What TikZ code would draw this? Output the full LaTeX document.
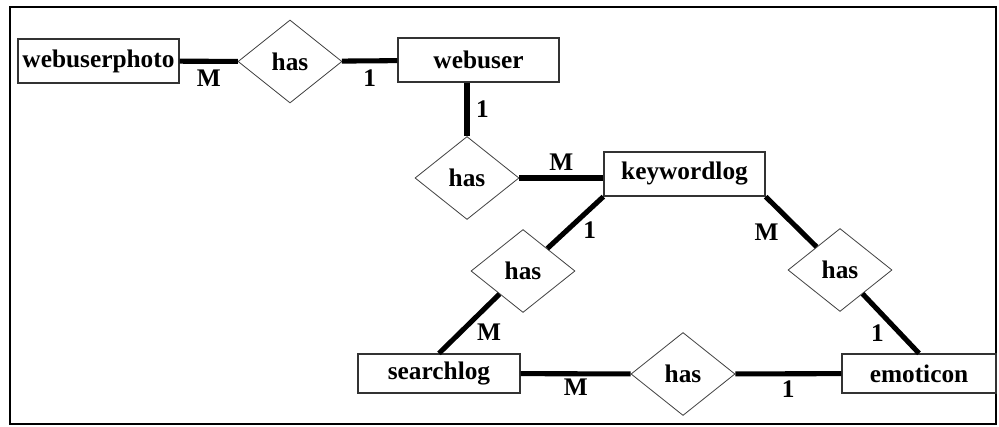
\documentclass[tikz,border=0pt]{standalone}
\usepackage{fontspec}
\setmainfont{Liberation Serif}
\usetikzlibrary{shapes.geometric}
\tikzstyle{ent} = [rectangle, draw=black!80, line width=1pt, fill=white,
    minimum width=120.75pt, minimum height=33pt, inner sep=0pt]
\tikzstyle{rel} = [diamond, draw=black!75, line width=0.6pt, fill=white,
    aspect=1.25, minimum width=78pt, minimum height=62.25pt, inner sep=0pt]
\tikzstyle{card} = [inner sep=0pt]

\begin{document}
\begin{tikzpicture}[x=0.75pt,y=-0.75pt,line width=3.8pt,
                    font=\fontsize{19}{23}\selectfont\bfseries]

  \useasboundingbox (0,0) rectangle (999,427);
  \draw[line width=2pt] (10,7) rectangle (996,424);

  \node[ent]   (photo)  at (98.5,61)   {webuserphoto};
  \node[rel]   (h1)     at (290,61.5)  {has};
  \node[ent]   (user)   at (478.5,60)  {webuser};
  \node[rel]   (h2)     at (467,178)   {has};
  \node[ent]   (kw)     at (684.5,174) {keywordlog};
  \node[rel]   (h3)     at (523,271)   {has};
  \node[rel]   (h4)     at (840,270)   {has};
  \node[ent,minimum height=29.25pt,minimum width=121.5pt] (search) at (439,373.5) {searchlog};
  \node[rel]   (h5)     at (683,374)   {has};
  \node[ent,minimum height=29.25pt,minimum width=115.5pt] (emo) at (919,373.5) {emoticon};

  \path (photo) edge node[card,below=4.8pt] {M} (h1)
        (h1) edge node[card,below=4.8pt] {1} (user)
        (user.south -| h2) edge node[card,right=5pt] {1} (h2)
        (h2) edge node[card,above=4pt] {M} (h2 -| kw.west)
        (kw.south west) edge node[card,pos=0.43,anchor=north west,xshift=1.2pt] {1} (h3)
        (kw.south east) edge node[card,pos=0.37,anchor=north east,xshift=-2.6pt,yshift=-4.8pt] {M} (h4)
        (h3) edge node[card,pos=0.41,anchor=north west,yshift=-2.1pt] {M} (search.north)
        (h4) edge node[card,pos=0.48,anchor=north east,xshift=-2.5pt] {1} (emo.north)
        (search) edge node[card,below=2.2pt] {M} (h5)
        (h5) edge node[card,below=3.7pt] {1} (emo);
\end{tikzpicture}
\end{document}
